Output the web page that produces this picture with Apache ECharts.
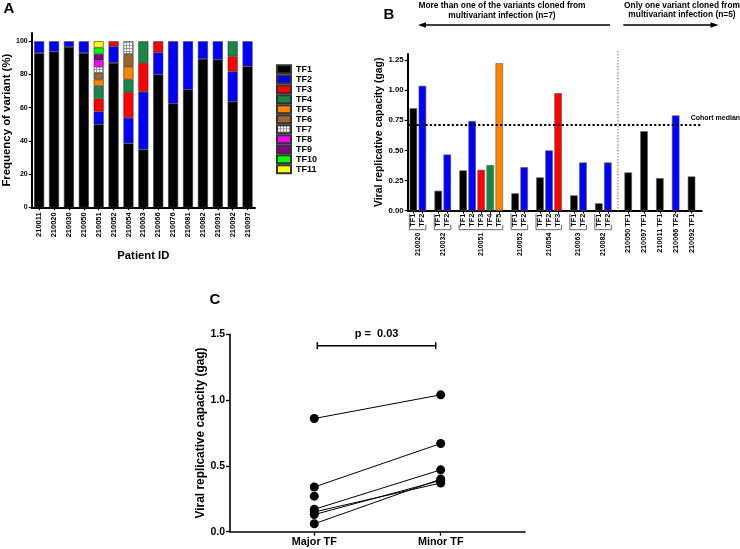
<!DOCTYPE html>
<html><head><meta charset="utf-8">
<script src="https://cdn.jsdelivr.net/npm/echarts@6/dist/echarts.min.js"></script>
<style>html,body{margin:0;padding:0;background:#fff}#c{width:740px;height:549px}</style>
</head><body><div id="c"></div>
<script>
// ---------- Panel A data ----------
const aPatients = ['210011','210020','210030','210050','210051','210052','210054','210063','210066','210076','210081','210082','210091','210092','210097'];
const aVariants = ['TF1','TF2','TF3','TF4','TF5','TF6','TF7','TF8','TF9','TF10','TF11'];
const aTF1  = [92.9, 93.8, 96.6, 93.0, 50.0, 87.0, 38.5, 34.8, 80.0, 62.5, 70.8, 89.3, 88.9, 63.6, 84.9];
const aTF2  = [7.1, 6.2, 3.4, 7.0, 7.7, 10.0, 15.4, 34.8, 13.3, 37.5, 29.2, 10.7, 11.1, 18.2, 15.1];
const aTF3  = [0, 0, 0, 0, 7.7, 3.0, 15.4, 17.4, 6.7, 0, 0, 0, 0, 9.1, 0];
const aTF4  = [0, 0, 0, 0, 7.7, 0, 7.7, 13.0, 0, 0, 0, 0, 0, 9.1, 0];
const aTF5  = [0, 0, 0, 0, 3.85, 0, 7.7, 0, 0, 0, 0, 0, 0, 0, 0];
const aTF6  = [0, 0, 0, 0, 3.85, 0, 7.7, 0, 0, 0, 0, 0, 0, 0, 0];
const aTF7  = [0, 0, 0, 0, 3.85, 0, 7.7, 0, 0, 0, 0, 0, 0, 0, 0];
const aTF8  = [0, 0, 0, 0, 3.85, 0, 0, 0, 0, 0, 0, 0, 0, 0, 0];
const aTF9  = [0, 0, 0, 0, 3.85, 0, 0, 0, 0, 0, 0, 0, 0, 0, 0];
const aTF10 = [0, 0, 0, 0, 3.85, 0, 0, 0, 0, 0, 0, 0, 0, 0, 0];
const aTF11 = [0, 0, 0, 0, 3.85, 0, 0, 0, 0, 0, 0, 0, 0, 0, 0];
const aFreqs = [aTF1,aTF2,aTF3,aTF4,aTF5,aTF6,aTF7,aTF8,aTF9,aTF10,aTF11];
const aYTicks = [0, 20, 40, 60, 80, 100];

// ---------- Panel B data ----------
const multiPatients = ['210020','210032','210051','210052','210054','210063','210082'];
const multiVariants = [['TF1','TF2'],['TF1','TF2'],['TF1','TF2','TF3','TF4','TF5'],['TF1','TF2'],['TF1','TF2','TF3'],['TF1','TF2'],['TF1','TF2']];
const multiVRC = [[0.85,1.036],[0.165,0.466],[0.334,0.744,0.339,0.378,1.223],[0.144,0.361],[0.276,0.50,0.975],[0.127,0.40],[0.061,0.40]];
const singlePatients = ['210050','210097','210011','210066','210092'];
const singleVariants = ['TF1','TF1','TF1','TF2','TF1'];
const singleVRC = [0.317, 0.659, 0.27, 0.79, 0.284];
const cohortMedian = 0.71;
const bYTicks = [0, 0.25, 0.5, 0.75, 1.0, 1.25];

// ---------- Panel C data ----------
const cCategories = ['Major TF','Minor TF'];
const cMajor = [0.86, 0.17, 0.34, 0.15, 0.27, 0.13, 0.06];
const cMinor = [1.04, 0.47, 0.67, 0.37, null, 0.39, 0.40];
const cPValue = 'p =  0.03';
const cYTicks = [0, 0.5, 1.0, 1.5];

// ---------- styles ----------
const FONT = 'Liberation Sans, Arial, sans-serif';
const pat = document.createElement('canvas');
pat.width = 3; pat.height = 3;
(function(){const g = pat.getContext('2d'); g.fillStyle='#ffffff'; g.fillRect(0,0,3,3); g.fillStyle='#9a9a9a'; g.fillRect(0,0,3,1); g.fillRect(0,0,1,3);})();
const tfColors = ['#000000','#0000ff','#ff0000','#1b8746','#ff8400','#9e6430',{image: pat, repeat: 'repeat'},'#ff00ff','#800080','#00ff00','#ffff00'];
const tfIdx = v => parseInt(v.slice(2), 10) - 1;

// ---------- B slot layout ----------
const LEAD = 2, IN_GROUP = 4, BETWEEN = 7, SECTION = 9, NSLOTS = 130;
const slotLabel = new Array(NSLOTS).fill('');
const slotPatient = new Array(NSLOTS).fill('');
const slotData = new Array(NSLOTS).fill('-');
const groups = [];
let pos = LEAD;
multiPatients.forEach((p, g) => {
  if (g > 0) pos += BETWEEN;
  const start = pos;
  multiVariants[g].forEach((v, k) => {
    if (k > 0) pos += IN_GROUP;
    slotLabel[pos] = v;
    slotData[pos] = {value: multiVRC[g][k], itemStyle: {color: tfColors[tfIdx(v)]}};
  });
  groups.push([start, 0, pos, multiVariants[g].length]);
  slotPatient[(start + pos) / 2] = p;
});
const sepLeft = pos;
pos += SECTION;
const sepRight = pos;
singlePatients.forEach((p, i) => {
  if (i > 0) pos += BETWEEN;
  slotLabel[pos] = p + ' TF' + singleVariants[i].slice(2);
  slotData[pos] = {value: singleVRC[i], itemStyle: {color: tfColors[tfIdx(singleVariants[i])]}};
});
const slotNames = slotLabel.map((_, i) => 's' + i);

// ---------- C slot layout ----------
const C_SLOTS = 8, C_MAJOR = 2, C_MINOR = 5;
const cSlotLabels = new Array(C_SLOTS).fill('');
cSlotLabels[C_MAJOR] = cCategories[0];
cSlotLabels[C_MINOR] = cCategories[1];
const cSlotNames = cSlotLabels.map((_, i) => 'c' + i);

const axisLine = w => ({show: true, lineStyle: {color: '#000', width: w}});
const tick = (w, l) => ({show: true, length: l, lineStyle: {color: '#000', width: w}});
const lbl = s => ({color: '#000', fontWeight: 'bold', fontSize: s, fontFamily: FONT});

const chart = echarts.init(document.getElementById('c'), null, {renderer: 'canvas'});

const series = [];
// A stacked bars
aVariants.forEach((v, i) => {
  series.push({
    type: 'bar', name: v, stack: 'a', xAxisIndex: 0, yAxisIndex: 0,
    barWidth: 10,
    data: aFreqs[i].map(x => x > 0 ? x : '-'),
    itemStyle: {color: tfColors[i], borderColor: '#333', borderWidth: 0.6},
    emphasis: {disabled: true}
  });
});
// B bars
series.push({
  type: 'bar', xAxisIndex: 1, yAxisIndex: 1, barWidth: 7.5,
  data: slotData,
  itemStyle: {borderColor: '#555', borderWidth: 0.6},
  markLine: {
    silent: true, symbol: 'none',
    lineStyle: {color: '#000', type: [2.2, 2.2], width: 2},
    label: {show: true, position: 'end', formatter: 'Cohort median', distance: 0, offset: [-11, -7], color: '#000', fontWeight: 'bold', fontSize: 7, fontFamily: FONT},
    data: [{yAxis: cohortMedian}]
  }
});
// B brackets
series.push({
  type: 'custom', xAxisIndex: 1, yAxisIndex: 1, clip: false, silent: true,
  data: groups,
  renderItem: (params, api) => {
    const a = api.coord([api.value(0), 0]);
    const b = api.coord([api.value(2), 0]);
    const n = api.value(3);
    const y0 = a[1];
    const x0 = a[0] - 4, x1 = b[0] + 3.5;
    const yb = y0 + 19;
    const leftTop = n <= 3 ? y0 + 3 : yb - 5;
    return {type: 'polyline', shape: {points: [[x0, leftTop], [x0, yb], [x1, yb], [x1, yb - 5]]},
      style: {stroke: '#666', lineWidth: 1, fill: null}};
  }
});
// B section separator
series.push({
  type: 'custom', xAxisIndex: 1, yAxisIndex: 1, clip: false, silent: true,
  data: [[sepLeft, 0, sepRight]],
  renderItem: (params, api) => {
    const a = api.coord([api.value(0), 0]);
    const b = api.coord([api.value(2), 0]);
    const top = api.coord([api.value(0), 1.3])[1] - 3;
    const x = (a[0] + b[0]) / 2;
    return {type: 'line', shape: {x1: x, y1: top, x2: x, y2: a[1]},
      style: {stroke: '#888', lineWidth: 1.2, lineDash: [1.5, 1.5]}};
  }
});
// C lines
cMajor.forEach((m, i) => {
  if (cMinor[i] == null) return;
  series.push({
    type: 'line', xAxisIndex: 3, yAxisIndex: 2, showSymbol: false, silent: true,
    data: [[C_MAJOR, m], [C_MINOR, cMinor[i]]],
    lineStyle: {color: '#000', width: 1}
  });
});
series.push({
  type: 'scatter', xAxisIndex: 3, yAxisIndex: 2, symbolSize: 9, silent: true,
  data: cMajor.map(m => [C_MAJOR, m]), itemStyle: {color: '#000', opacity: 1}
});
series.push({
  type: 'scatter', xAxisIndex: 3, yAxisIndex: 2, symbolSize: 9, silent: true,
  data: cMinor.filter(m => m != null).map(m => [C_MINOR, m]), itemStyle: {color: '#000', opacity: 1}
});
// C p-value bracket
series.push({
  type: 'custom', xAxisIndex: 3, yAxisIndex: 2, clip: false, silent: true,
  data: [[C_MAJOR, 1.5, C_MINOR]],
  renderItem: (params, api) => {
    const a = api.coord([api.value(0), api.value(1)]);
    const b = api.coord([api.value(2), api.value(1)]);
    const y = a[1] + 11.4;
    const x0 = a[0] + 3, x1 = b[0] - 5;
    const st = {stroke: '#000', lineWidth: 1.5};
    return {type: 'group', children: [
      {type: 'line', shape: {x1: x0, y1: y, x2: x1, y2: y}, style: st},
      {type: 'line', shape: {x1: x0, y1: y - 3.5, x2: x0, y2: y + 3.5}, style: st},
      {type: 'line', shape: {x1: x1, y1: y - 3.5, x2: x1, y2: y + 3.5}, style: st},
      {type: 'text', style: {text: cPValue, x: (x0 + x1) / 2, y: y - 12, textAlign: 'center', textVerticalAlign: 'middle',
        fill: '#000', fontSize: 11, fontWeight: 'bold', fontFamily: FONT}}
    ]};
  }
});

const txt = (t, x, y, size, align) => ({type: 'text', silent: true, style: {text: t, x: x, y: y, textAlign: align || 'center', textVerticalAlign: 'middle', fill: '#000', fontSize: size, fontWeight: 'bold', fontFamily: FONT}});

const option = {
  animation: false,
  textStyle: {fontFamily: FONT},
  grid: [
    {left: 31.7, top: 33, width: 223.3, height: 174.3},
    {left: 407.7, top: 54, width: 294, height: 156.7},
    {left: 230, top: 334.3, width: 295, height: 197.4}
  ],
  legend: {
    data: aVariants, orient: 'vertical', left: 271, top: 59.3, itemWidth: 14, itemHeight: 8, itemGap: 0,
    icon: 'rect', selectedMode: false,
    textStyle: {color: '#000', fontWeight: 'bold', fontSize: 9, lineHeight: 8.6, fontFamily: FONT}
  },
  xAxis: [
    {type: 'category', gridIndex: 0, data: aPatients,
      name: 'Patient ID', nameLocation: 'middle', nameGap: 43.5, nameTextStyle: lbl(11.3),
      axisLine: axisLine(2), axisTick: Object.assign(tick(1.2, 3), {alignWithLabel: true}),
      axisLabel: Object.assign(lbl(7.5), {rotate: 90, interval: 0, margin: 5})},
    {type: 'category', gridIndex: 1, data: slotNames,
      axisLine: axisLine(2),
      axisTick: Object.assign(tick(1, 3), {alignWithLabel: true, interval: (i) => slotLabel[i] !== ''}),
      axisLabel: Object.assign(lbl(7.3), {rotate: 90, interval: 0, margin: 3, formatter: (v, i) => slotLabel[i]})},
    {type: 'category', gridIndex: 1, data: slotNames, position: 'bottom', offset: 22,
      axisLine: {show: false}, axisTick: {show: false},
      axisLabel: Object.assign(lbl(7), {rotate: 90, interval: 0, margin: 0, formatter: (v, i) => slotPatient[i]})},
    {type: 'category', gridIndex: 2, data: cSlotNames, boundaryGap: false,
      axisLine: axisLine(1.6),
      axisTick: Object.assign(tick(1.3, 4), {interval: (i) => cSlotLabels[i] !== ''}),
      axisLabel: Object.assign(lbl(10.8), {interval: 0, margin: 5, formatter: (v, i) => cSlotLabels[i]})}
  ],
  yAxis: [
    {type: 'value', gridIndex: 0, min: 0, max: 105,
      name: 'Frequency of variant (%)', nameLocation: 'middle', nameGap: 16, nameTextStyle: lbl(11.4),
      axisLine: axisLine(2), axisTick: Object.assign(tick(1.2, 3), {customValues: aYTicks}),
      axisLabel: Object.assign(lbl(7), {margin: 4, customValues: aYTicks}), splitLine: {show: false}},
    {type: 'value', gridIndex: 1, min: 0, max: 1.3,
      name: 'Viral replicative capacity (gag)', nameLocation: 'middle', nameGap: 22, nameTextStyle: lbl(10.4),
      axisLine: axisLine(2), axisTick: Object.assign(tick(1.2, 3), {customValues: bYTicks}),
      axisLabel: Object.assign(lbl(7.8), {margin: 4, customValues: bYTicks, formatter: v => v.toFixed(2)}), splitLine: {show: false}},
    {type: 'value', gridIndex: 2, min: 0, max: 1.5,
      name: 'Viral replicative capacity (gag)', nameLocation: 'middle', nameGap: 18.5, nameTextStyle: lbl(11.9),
      axisLine: axisLine(1.6), axisTick: Object.assign(tick(1.3, 4), {customValues: cYTicks}),
      axisLabel: Object.assign(lbl(10.5), {margin: 5, customValues: cYTicks, formatter: v => v.toFixed(1)}), splitLine: {show: false}}
  ],
  graphic: [
    txt('A', 9, 9, 15),
    txt('B', 389, 15, 15),
    txt('C', 215, 300, 15),
    txt('More than one of the variants cloned from', 502, 5.7, 8.4),
    txt('multivariant infection (n=7)', 502, 15.2, 8.4),
    txt('Only one variant cloned from', 682, 5.2, 8.4),
    txt('multivariant infection (n=5)', 682, 14.8, 8.4),
    {type: 'line', silent: true, shape: {x1: 423, y1: 25, x2: 610, y2: 25}, style: {stroke: '#000', lineWidth: 1.6}},
    {type: 'polygon', silent: true, shape: {points: [[418, 25], [426, 22.3], [426, 27.7]]}, style: {fill: '#000'}},
    {type: 'line', silent: true, shape: {x1: 623.3, y1: 25, x2: 713, y2: 25}, style: {stroke: '#000', lineWidth: 1.6}},
    {type: 'polygon', silent: true, shape: {points: [[718.5, 25], [710.5, 22.3], [710.5, 27.7]]}, style: {fill: '#000'}}
  ],
  series: series
};
chart.setOption(option);
</script></body></html>
